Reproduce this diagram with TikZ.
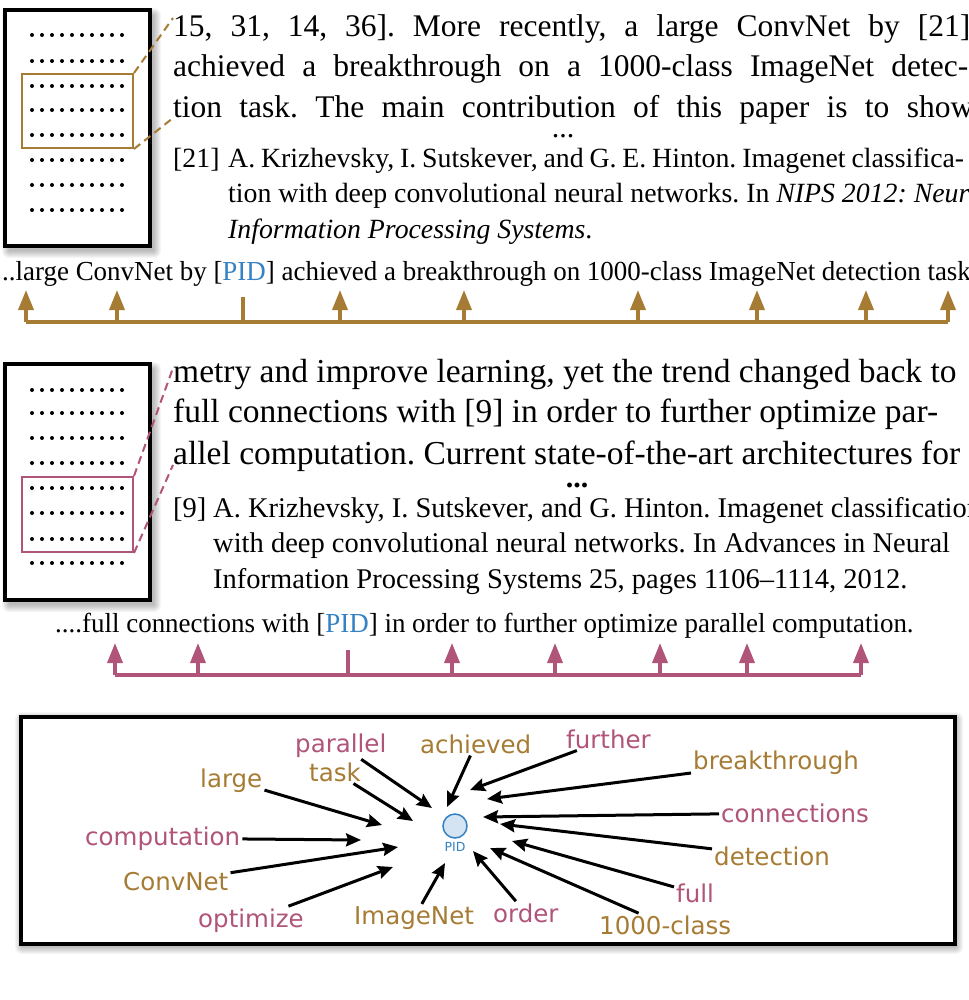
\documentclass[tikz,border=0pt]{standalone}
\usepackage{fontspec}
\setmainfont{Liberation Serif}
\newfontfamily\dejavu{DejaVu Sans}
\newfontfamily\condserif[FakeStretch=0.98]{Liberation Serif}
\usetikzlibrary{arrows.meta}
\definecolor{gold}{RGB}{166,124,52}
\definecolor{rose}{RGB}{176,84,122}
\definecolor{pidblue}{RGB}{52,130,195}
\definecolor{pidfill}{RGB}{212,228,242}
\newcommand\softshadow[4]{%
  \foreach \k in {0,...,7}{\fill[black,opacity=0.035,rounded corners=\k pt] (#1-\k,#2-\k) rectangle (#3+\k,#4+\k);}}
\newcommand\dotrow[1]{\foreach \j in {0,...,9}{\fill[black] (32+10*\j,#1) circle (2);}}
\begin{document}
\frenchspacing
\begin{tikzpicture}[x=1pt,y=-1pt,
  bigtxt/.style={anchor=base west,inner sep=0pt,font=\frenchspacing\fontsize{31.5}{38}\selectfont},
  midtxt/.style={anchor=base west,inner sep=0pt,font=\frenchspacing\fontsize{33.5}{40}\selectfont},
  reftxt/.style={anchor=base west,inner sep=0pt,font=\frenchspacing\fontsize{27.8}{33}\selectfont},
  reftxtb/.style={anchor=base west,inner sep=0pt,font=\frenchspacing\fontsize{28.5}{33}\selectfont},
  linetxt/.style={anchor=base west,inner sep=0pt,font=\condserif\frenchspacing\fontsize{27.5}{33}\selectfont},
  pagebox/.style={draw=black,line width=4.5pt,fill=white},
  goldline/.style={draw=gold,line width=3.5pt},
  roseline/.style={draw=rose,line width=3.5pt},
  goldarrow/.style={goldline,-{Triangle[length=20pt,width=15pt]}},
  rosearrow/.style={roseline,-{Triangle[length=20pt,width=15pt]}},
  word/.style={anchor=base west,inner sep=2pt,font=\dejavu\fontsize{24.5}{30}\selectfont},
  goldword/.style={word,text=gold},
  roseword/.style={word,text=rose},
  inarrow/.style={draw=black,line width=3pt,-{Stealth[length=15pt,width=13pt,inset=2pt]}}
]
\useasboundingbox (0,0) rectangle (968,1000);
\fill[white] (0,0) rectangle (968,1000);

% ---------- page icon 1 ----------
\softshadow{9}{15}{154}{251}
\draw[pagebox] (5,10) rectangle (150,246);
\foreach \yy in {35,61,86,110,135,160,185,210}{\dotrow{\yy}}
\node[draw=gold,line width=2pt,minimum width=111pt,minimum height=74pt,inner sep=0pt] (hl1) at (77.5,111) {};
\coordinate (d1a) at (173,18);
\coordinate (d1b) at (173,118);
\draw[gold,line width=2pt,dash pattern=on 8pt off 5pt] (hl1.north east) -- (d1a);
\draw[gold,line width=2pt,dash pattern=on 8pt off 5pt] (hl1.south east) -- (d1b);

\node[bigtxt] (t1a) at (173,37) {\makebox[797pt][s]{15, 31, 14, 36]. More recently, a large ConvNet by [21]}};
\node[bigtxt] (t1b) at (173,77) {\makebox[795pt][s]{achieved a breakthrough on a 1000-class ImageNet detec-}};
\node[bigtxt] (t1c) at (173,118) {\makebox[800pt][s]{tion task. The main contribution of this paper is to show}};
\node[anchor=base,inner sep=0pt,font=\fontsize{30}{30}\selectfont] (e1) at (563,138) {...};
\node[reftxt] (r1n) at (173,168) {[21]};
\node[reftxt] (r1a) at (228,168) {\makebox[736pt][s]{A. Krizhevsky, I. Sutskever, and G. E. Hinton. Imagenet classifica-}};
\node[reftxt] (r1b) at (228,203) {tion with deep convolutional neural networks. In \textit{NIPS 2012: Neural}};
\node[reftxt] (r1c) at (228,238) {\textit{Information Processing Systems}.};

% ---------- timeline 1 ----------
\node[linetxt] (s1) at (2,280) {..large ConvNet by [\textcolor{pidblue}{PID}] achieved a breakthrough on 1000-class ImageNet detection task};
\foreach \n/\xx in {0/26,1/117,2/340,3/464,4/638,5/757,6/866,7/948}{
  \coordinate (ga\n) at (\xx,322);
  \coordinate (gt\n) at (\xx,290);
}
\coordinate (gpidb) at (243,322);
\coordinate (gpidt) at (243,297);
\draw[goldline] (ga0) -- (ga7);
\draw[goldline] (gpidb) -- (gpidt);
\foreach \n in {0,...,7}{\draw[goldarrow] (ga\n) -- (gt\n);}

% ---------- page icon 2 ----------
\softshadow{9}{369}{154}{605}
\draw[pagebox] (5,364) rectangle (150,600);
\foreach \yy in {390,413,438,463,488,513,539,563}{\dotrow{\yy}}
\node[draw=rose,line width=2pt,minimum width=111pt,minimum height=75pt,inner sep=0pt] (hl2) at (77.5,514.5) {};
\coordinate (d2a) at (173,368);
\coordinate (d2b) at (173,465);
\draw[rose,line width=2pt,dash pattern=on 8pt off 5pt] (hl2.north east) -- (d2a);
\draw[rose,line width=2pt,dash pattern=on 8pt off 5pt] (hl2.south east) -- (d2b);

\node[midtxt] (t2a) at (173,382) {metry and improve learning, yet the trend changed back to};
\node[midtxt] (t2b) at (173,422) {full connections with [9] in order to further optimize par-};
\node[midtxt] (t2c) at (173,464) {allel computation. Current state-of-the-art architectures for};
\node[anchor=base,inner sep=0pt,font=\bfseries\fontsize{30}{30}\selectfont] (e2) at (577,487) {...};
\node[reftxtb] (r2n) at (173,517) {[9]};
\node[reftxtb] (r2a) at (213,517) {A. Krizhevsky, I. Sutskever, and G. Hinton. Imagenet classification};
\node[reftxtb] (r2b) at (213,552) {with deep convolutional neural networks. In Advances in Neural};
\node[reftxtb] (r2c) at (213,588) {Information Processing Systems 25, pages 1106--1114, 2012.};

% ---------- timeline 2 ----------
\node[linetxt] (s2) at (55,632) {....full connections with [\textcolor{pidblue}{PID}] in order to further optimize parallel computation.};
\foreach \n/\xx in {0/115,1/198,2/452,3/555,4/660,5/747,6/861}{
  \coordinate (ra\n) at (\xx,675);
  \coordinate (rt\n) at (\xx,643);
}
\coordinate (rpidb) at (348,675);
\coordinate (rpidt) at (348,650);
\draw[roseline] (ra0) -- (ra6);
\draw[roseline] (rpidb) -- (rpidt);
\foreach \n in {0,...,6}{\draw[rosearrow] (ra\n) -- (rt\n);}

% ---------- bottom box ----------
\softshadow{22}{719}{956}{947}
\draw[draw=black,line width=4pt,fill=white] (21,717) rectangle (955,944);

\node[circle,draw=pidblue,fill=pidfill,line width=1.5pt,minimum size=24pt,inner sep=0pt] (pid) at (455,826) {};
\node[inner sep=0pt,font=\dejavu\fontsize{12.5}{14}\selectfont,text=pidblue] (pidl) at (455,847) {PID};

\node[roseword] (wparallel) at (293,752) {parallel};
\node[goldword] (wtask) at (307,781) {task};
\node[goldword] (wlarge) at (198,787) {large};
\node[roseword] (wcomputation) at (83,845) {computation};
\node[goldword] (wconvnet) at (121,890) {ConvNet};
\node[roseword] (woptimize) at (196,927) {optimize};
\node[goldword] (wimagenet) at (352,924) {ImageNet};
\node[goldword] (wachieved) at (418,753) {achieved};
\node[roseword] (wfurther) at (564,748) {further};
\node[goldword] (wbreak) at (691,769) {breakthrough};
\node[roseword] (wconn) at (719,822) {connections};
\node[goldword] (wdetect) at (712,865) {detection};
\node[roseword] (wfull) at (674,902) {full};
\node[goldword] (wclass) at (597,934) {1000-class};
\node[roseword] (worder) at (491,922) {order};

\coordinate (pl) at (382,825);
\coordinate (pt) at (413,821);
\coordinate (pp) at (432,808);
\coordinate (pa) at (447,807);
\coordinate (pf) at (470,790);
\coordinate (pb) at (487,799);
\coordinate (pc) at (483,817);
\coordinate (pd) at (500,824);
\coordinate (pfu) at (512,841);
\coordinate (pk) at (490,848);
\coordinate (po) at (473,851);
\coordinate (pi) at (445,863);
\coordinate (pop) at (393,867);
\coordinate (pcv) at (398,847);
\coordinate (pcm) at (361,840);

\draw[inarrow] (wlarge) -- (pl);
\draw[inarrow] (wtask) -- (pt);
\draw[inarrow] (wparallel) -- (pp);
\draw[inarrow] (wachieved) -- (pa);
\draw[inarrow] (wfurther) -- (pf);
\draw[inarrow] (wbreak) -- (pb);
\draw[inarrow] (wconn) -- (pc);
\draw[inarrow] (wdetect) -- (pd);
\draw[inarrow] (wfull) -- (pfu);
\draw[inarrow] (wclass) -- (pk);
\draw[inarrow] (worder) -- (po);
\draw[inarrow] (wimagenet) -- (pi);
\draw[inarrow] (woptimize) -- (pop);
\draw[inarrow] (wconvnet) -- (pcv);
\draw[inarrow] (wcomputation) -- (pcm);
\end{tikzpicture}
\end{document}
